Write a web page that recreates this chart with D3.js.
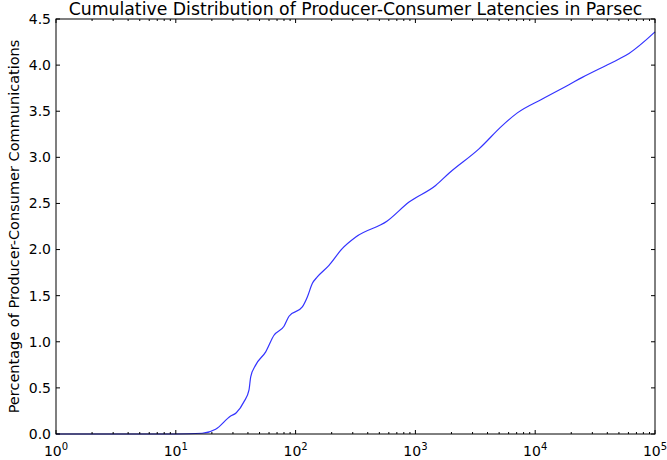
<!DOCTYPE html>
<html>
<head>
<meta charset="utf-8">
<script src="https://cdn.jsdelivr.net/npm/d3@7"></script>
<style>
  body { margin: 0; background: #fff; }
  text { font-family: "DejaVu Sans", sans-serif; fill: #000; }
</style>
</head>
<body>
<svg id="chart" width="667" height="460"></svg>
<script>
// latency (cycles) and cumulative percentage
var latency = [1, 10, 16.6, 21.5, 28.7, 32.0, 37.1, 40.8, 42.2, 46.4, 56.3, 66.0, 80.0, 88.1,
  113.8, 125.3, 137.8, 151.7, 190, 245, 318, 582, 885, 1476, 1906, 3394, 5311, 7096,
  11460, 19130, 24720, 38730, 50030, 60650, 100000];
var percent = [0, 0, 0.008, 0.051, 0.195, 0.231, 0.351, 0.476, 0.620, 0.747, 0.891, 1.071, 1.169, 1.277,
  1.378, 1.486, 1.631, 1.703, 1.829, 2.010, 2.136, 2.309, 2.515, 2.695, 2.828, 3.092, 3.344, 3.482,
  3.633, 3.788, 3.867, 3.994, 4.066, 4.127, 4.36];
var yTicks = [0, 0.5, 1, 1.5, 2, 2.5, 3, 3.5, 4, 4.5];
var decades = [0, 1, 2, 3, 4, 5];

var margin = {left: 56, right: 12, top: 19, bottom: 26},
    width = 667 - margin.left - margin.right,
    height = 460 - margin.top - margin.bottom;

var svg = d3.select("#chart");
var g = svg.append("g").attr("transform", "translate(" + margin.left + "," + margin.top + ")");

var x = d3.scaleLog().domain([1, 1e5]).range([0, width]);
var y = d3.scaleLinear().domain([0, 4.5]).range([height, 0]);

var data = latency.map(function(d, i) { return {x: d, y: percent[i]}; });

var line = d3.line()
  .x(function(d) { return x(d.x); })
  .y(function(d) { return y(d.y); })
  .curve(d3.curveMonotoneX);

g.append("path")
  .datum(data)
  .attr("fill", "none")
  .attr("stroke", "#3333ff")
  .attr("stroke-width", 1.2)
  .attr("d", line);

// minor ticks 2..9 in each decade
var minor = [];
for (var k = 0; k < 5; k++) {
  for (var m = 2; m <= 9; m++) minor.push(m * Math.pow(10, k));
}

// ticks drawn inside the frame, on all four sides
g.selectAll(".xmaj").data(decades).enter().append("line")
  .attr("x1", function(d) { return x(Math.pow(10, d)); })
  .attr("x2", function(d) { return x(Math.pow(10, d)); })
  .attr("y1", height).attr("y2", height - 4)
  .attr("stroke", "#000");
g.selectAll(".xmajt").data(decades).enter().append("line")
  .attr("x1", function(d) { return x(Math.pow(10, d)); })
  .attr("x2", function(d) { return x(Math.pow(10, d)); })
  .attr("y1", 0).attr("y2", 4)
  .attr("stroke", "#000");
g.selectAll(".xmin").data(minor).enter().append("line")
  .attr("x1", function(d) { return x(d); })
  .attr("x2", function(d) { return x(d); })
  .attr("y1", height).attr("y2", height - 2)
  .attr("stroke", "#000");
g.selectAll(".xmint").data(minor).enter().append("line")
  .attr("x1", function(d) { return x(d); })
  .attr("x2", function(d) { return x(d); })
  .attr("y1", 0).attr("y2", 2)
  .attr("stroke", "#000");
g.selectAll(".yl").data(yTicks).enter().append("line")
  .attr("x1", 0).attr("x2", 4)
  .attr("y1", function(d) { return y(d); })
  .attr("y2", function(d) { return y(d); })
  .attr("stroke", "#000");
g.selectAll(".yr").data(yTicks).enter().append("line")
  .attr("x1", width).attr("x2", width - 4)
  .attr("y1", function(d) { return y(d); })
  .attr("y2", function(d) { return y(d); })
  .attr("stroke", "#000");

// frame
g.append("rect")
  .attr("width", width).attr("height", height)
  .attr("fill", "none").attr("stroke", "#000").attr("stroke-width", 1);

// y labels
g.selectAll(".ylab").data(yTicks).enter().append("text")
  .attr("x", -5)
  .attr("y", function(d) { return y(d); })
  .attr("dy", "0.35em")
  .attr("text-anchor", "end")
  .style("font-size", "14px")
  .text(function(d) { return d.toFixed(1); });

// x labels as 10^n
var xl = g.selectAll(".xlab").data(decades).enter().append("text")
  .attr("x", function(d) { return x(Math.pow(10, d)); })
  .attr("y", height + 22)
  .attr("text-anchor", "middle")
  .style("font-size", "14px");
xl.append("tspan").text("10");
xl.append("tspan").attr("dy", -6).style("font-size", "10px").text(function(d) { return d; });

svg.append("text")
  .attr("x", margin.left + width / 2)
  .attr("y", 15)
  .attr("text-anchor", "middle")
  .style("font-size", "17.3px")
  .text("Cumulative Distribution of Producer-Consumer Latencies in Parsec");

svg.append("text")
  .attr("transform", "translate(19," + (margin.top + height / 2) + ") rotate(-90)")
  .attr("text-anchor", "middle")
  .style("font-size", "14.5px")
  .text("Percentage of Producer-Consumer Communications");
</script>
</body>
</html>
